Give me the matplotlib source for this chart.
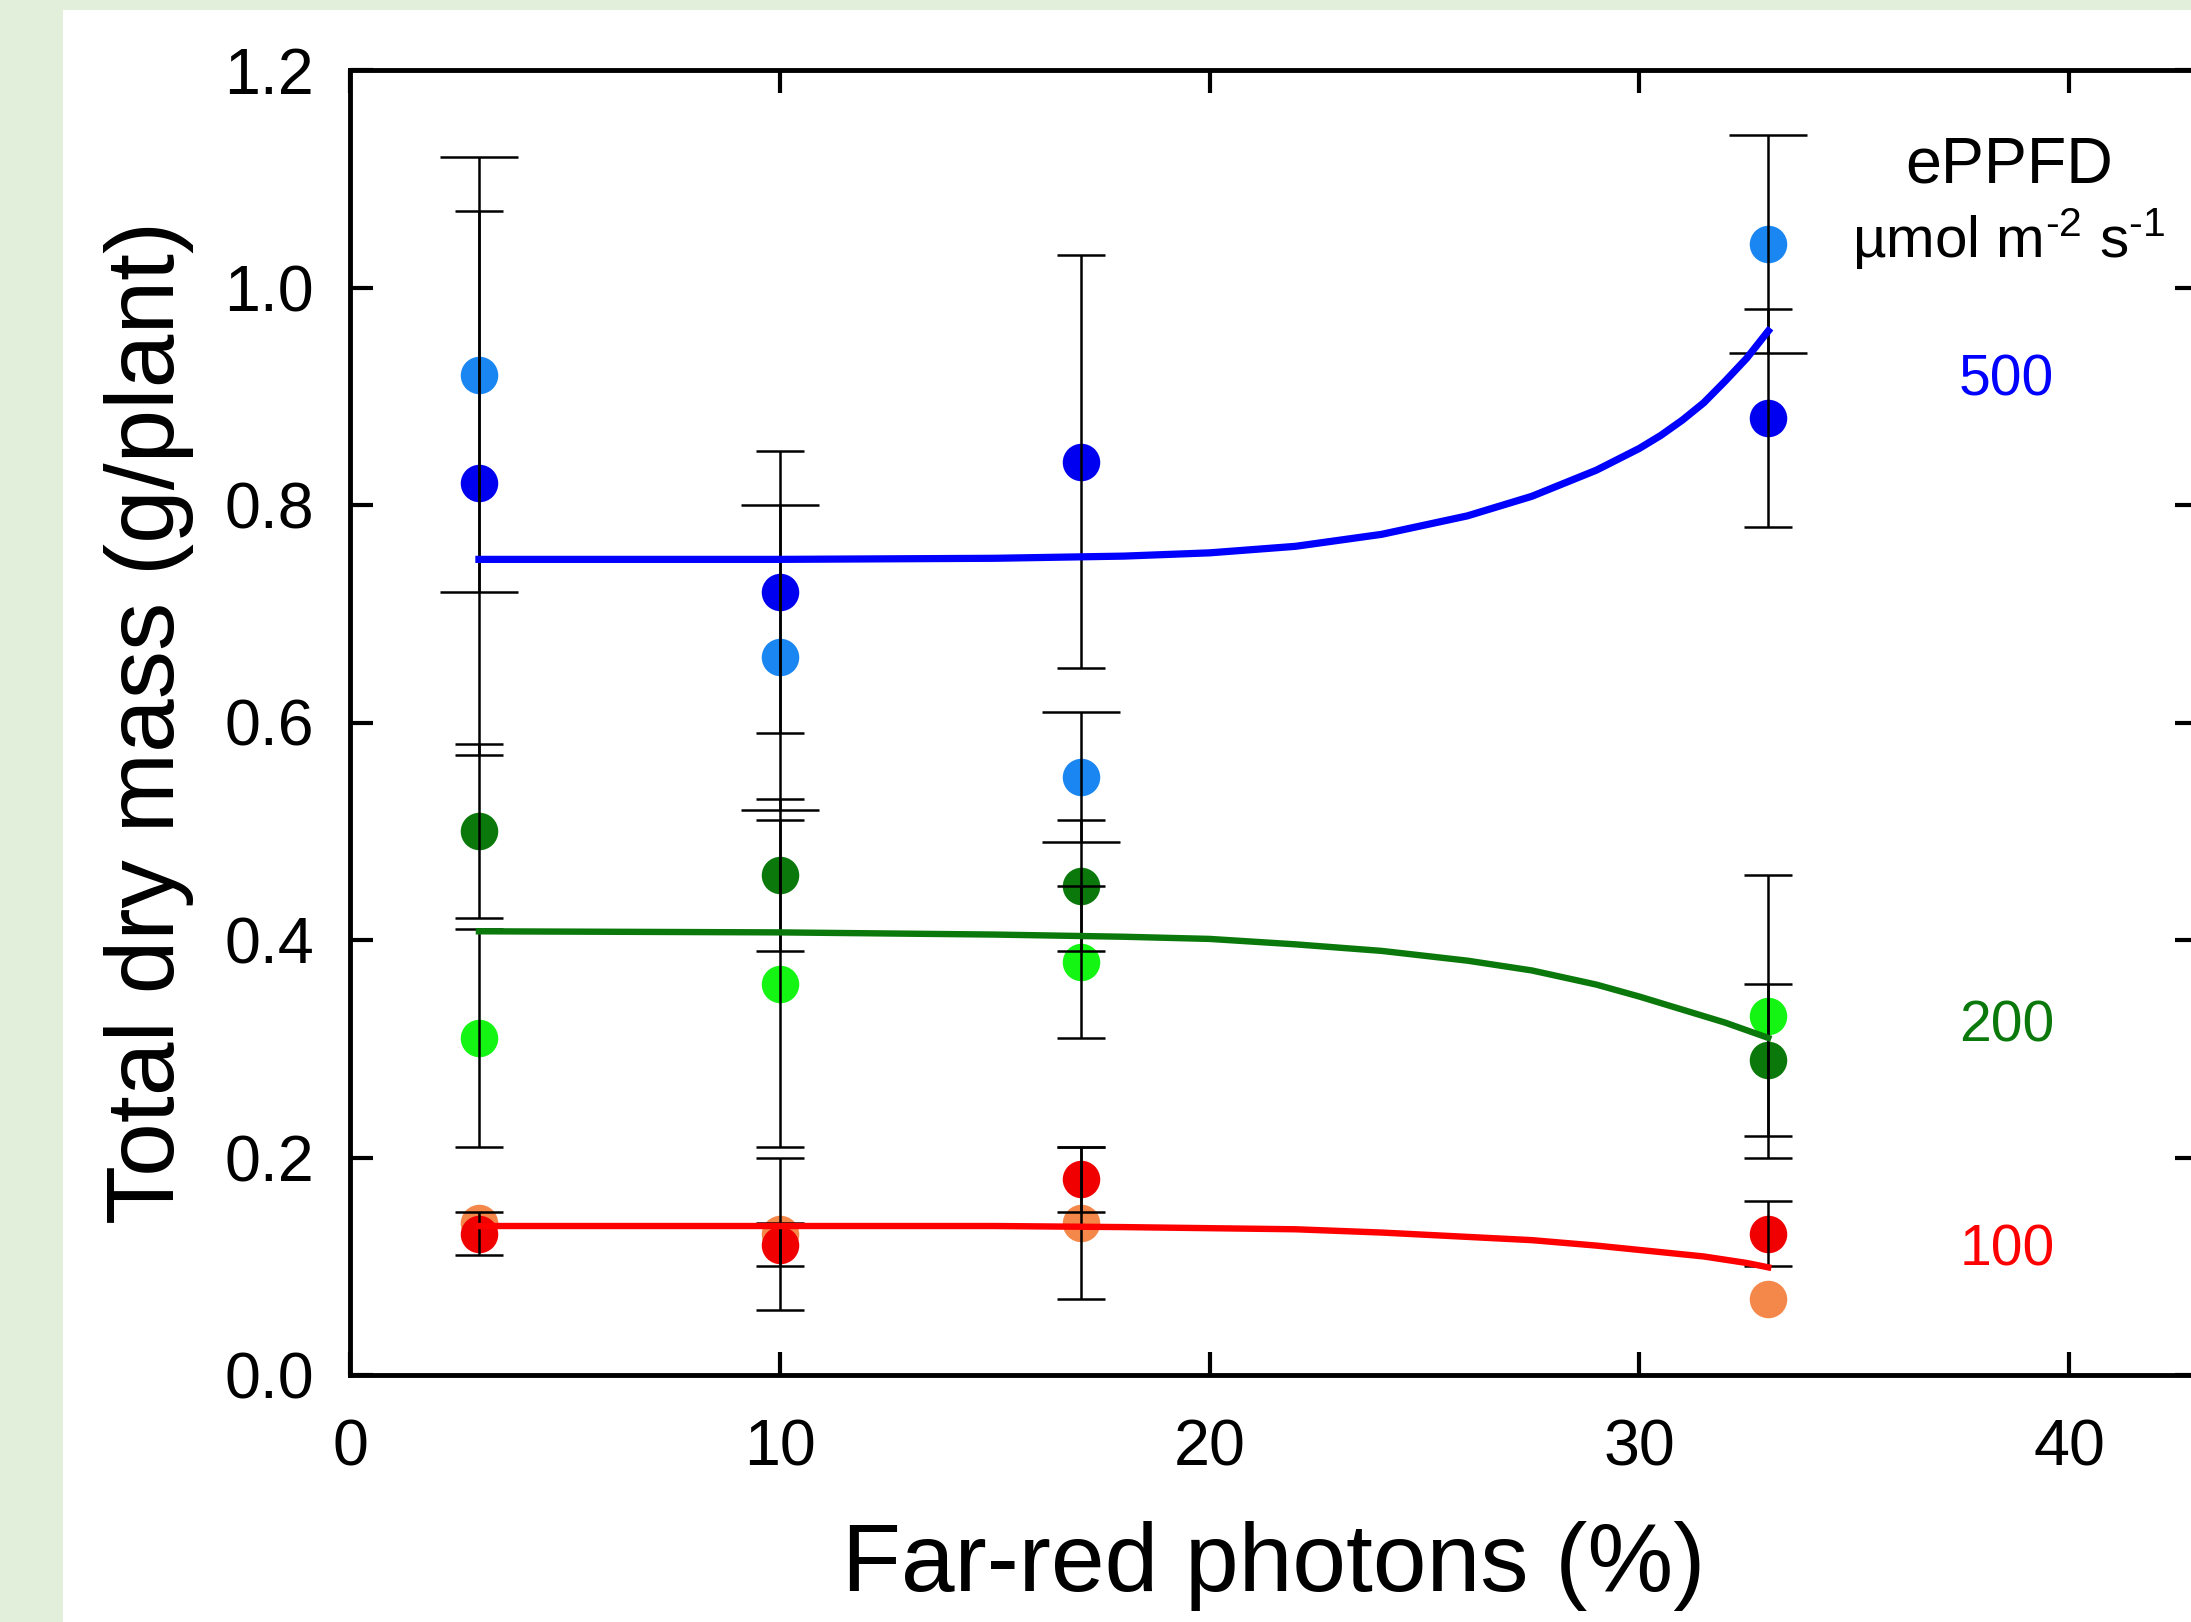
import matplotlib
matplotlib.use("Agg")
import matplotlib.pyplot as plt
from matplotlib.patches import Rectangle

plt.rcParams["font.family"] = ["Liberation Sans", "DejaVu Sans"]
plt.rcParams["mathtext.fontset"] = "custom"
plt.rcParams["mathtext.rm"] = "Liberation Sans"
plt.rcParams["mathtext.default"] = "regular"

# far-red photon fraction (%)
far_red = [3, 10, 17, 33]

# total dry mass (g/plant) and error bars, per treatment
light_blue = [0.92, 0.66, 0.55, 1.04]
light_blue_err = [0.20, 0.14, 0.06, 0.10]
blue = [0.82, 0.72, 0.84, 0.88]
blue_err = [0.25, 0.13, 0.19, 0.10]
dark_green = [0.50, 0.46, 0.45, 0.29]
dark_green_err = [0.08, 0.07, 0.06, 0.07]
light_green = [0.31, 0.36, 0.38, 0.33]
light_green_err = [0.10, 0.15, 0.07, 0.13]
red = [0.13, 0.12, 0.18, 0.13]
red_err = [0.02, 0.02, 0.03, 0.03]
orange = [0.14, 0.13, 0.14, 0.07]
orange_err = [0.0, 0.07, 0.07, 0.0]

# fitted curves
fit_x = [3, 10, 15, 18, 20, 22, 24, 26, 27.5, 29, 30, 30.5, 31, 31.5,
         32, 32.5, 33]
fit_500 = [0.750, 0.750, 0.751, 0.753, 0.756, 0.762, 0.773, 0.790, 0.808,
           0.832, 0.852, 0.864, 0.878, 0.894, 0.914, 0.935, 0.960]
fit_200 = [0.408, 0.407, 0.405, 0.403, 0.401, 0.396, 0.390, 0.381, 0.372,
           0.359, 0.348, 0.342, 0.336, 0.330, 0.324, 0.317, 0.310]
fit_100 = [0.137, 0.137, 0.137, 0.136, 0.135, 0.134, 0.131, 0.127, 0.124,
           0.119, 0.115, 0.113, 0.111, 0.109, 0.106, 0.103, 0.099]

ppfd_labels = ["500", "200", "100"]
ppfd_label_y = [0.901, 0.307, 0.101]

W, H = 2191, 1622
fig = plt.figure(figsize=(W / 100, H / 100), dpi=100)
fig.patch.set_facecolor("#e2efda")
fig.add_artist(Rectangle((63 / W, 0), 1, (H - 10) / H, transform=fig.transFigure,
                         facecolor="white", edgecolor="none", zorder=-10))

ax = fig.add_axes([350 / W, (H - 1375) / H, (2198 - 350) / W, 1305 / H])
ax.set_facecolor("none")

# light series first so the darker ones sit on top where they overlap
series = [
    (light_blue, light_blue_err, "#1a86f2", 28),
    (blue, blue_err, "#0000f0", 17),
    (light_green, light_green_err, "#14f514", 17),
    (dark_green, dark_green_err, "#0a780a", 17),
    (orange, orange_err, "#f4884a", 17),
    (red, red_err, "#f00000", 17),
]
for vals, err, color, cap in series:
    ax.plot(far_red, vals, "o", color=color, markersize=27,
            markeredgewidth=0, zorder=2)
    # skip bars too small to show outside the marker
    keep = [i for i, e in enumerate(err) if e > 0]
    ax.errorbar([far_red[i] for i in keep], [vals[i] for i in keep],
                yerr=[err[i] for i in keep], fmt="none", ecolor="black",
                elinewidth=1.8, capsize=cap, capthick=1.8, zorder=3)

ax.plot(fit_x, fit_500, color="#0000ff", lw=5.2, zorder=4)
ax.plot(fit_x, fit_200, color="#0a780a", lw=4.6, zorder=4)
ax.plot(fit_x, fit_100, color="#ff0000", lw=4.6, zorder=4)

ax.text(38.6, 1.097, "ePPFD", ha="center", va="baseline", fontsize=46.5)
ax.text(38.6, 1.027, r"µmol m$^{\text{-}2}$ s$^{\text{-}1}$", ha="center",
        va="baseline", fontsize=42)
for text, y, color in zip(ppfd_labels, ppfd_label_y,
                          ["#0000ff", "#0a780a", "#ff0000"]):
    ax.text(38.55, y, text, ha="center", va="baseline", fontsize=41,
            color=color)

ax.set_xlim(0, 43)
ax.set_ylim(0, 1.2)
ax.set_xticks([0, 10, 20, 30, 40])
ax.set_yticks([0.0, 0.2, 0.4, 0.6, 0.8, 1.0, 1.2])
ax.set_yticklabels(["0.0", "0.2", "0.4", "0.6", "0.8", "1.0", "1.2"])
ax.tick_params(axis="both", direction="in", length=16.5, width=3,
               top=True, right=True, labelsize=46.5)
ax.tick_params(axis="x", pad=31)
ax.tick_params(axis="y", pad=26)
for spine in ax.spines.values():
    spine.set_linewidth(3.5)

ax.set_xlabel("Far-red photons (%)", fontsize=69.5, labelpad=31)
ax.set_ylabel("Total dry mass (g/plant)", fontsize=69.5, labelpad=22)

fig.savefig("out.png", dpi=100, facecolor=fig.get_facecolor())
